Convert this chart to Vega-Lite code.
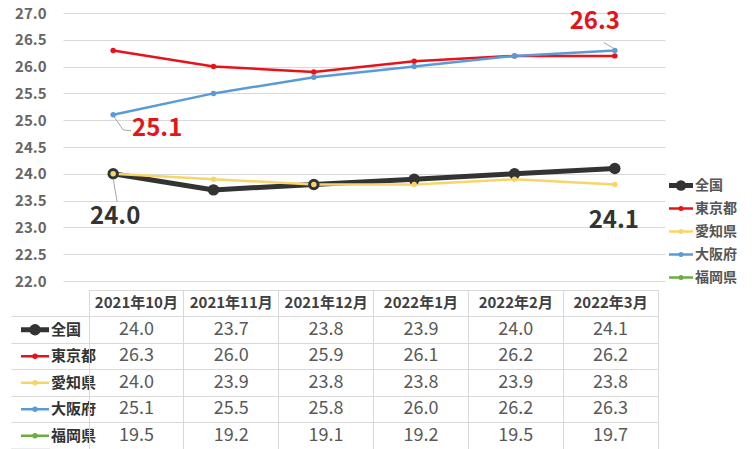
{
  "$schema": "https://vega.github.io/schema/vega-lite/v6.json",
  "background": "white",
  "padding": {"left": 10, "top": 6, "right": 0, "bottom": 0},
  "config": {"font": "Noto Sans CJK JP", "view": {"stroke": null}},
  "datasets": {
    "vals": [
      {"series": "全国", "month": "2021年10月", "value": 24.0},
      {"series": "全国", "month": "2021年11月", "value": 23.7},
      {"series": "全国", "month": "2021年12月", "value": 23.8},
      {"series": "全国", "month": "2022年1月", "value": 23.9},
      {"series": "全国", "month": "2022年2月", "value": 24.0},
      {"series": "全国", "month": "2022年3月", "value": 24.1},
      {"series": "東京都", "month": "2021年10月", "value": 26.3},
      {"series": "東京都", "month": "2021年11月", "value": 26.0},
      {"series": "東京都", "month": "2021年12月", "value": 25.9},
      {"series": "東京都", "month": "2022年1月", "value": 26.1},
      {"series": "東京都", "month": "2022年2月", "value": 26.2},
      {"series": "東京都", "month": "2022年3月", "value": 26.2},
      {"series": "愛知県", "month": "2021年10月", "value": 24.0},
      {"series": "愛知県", "month": "2021年11月", "value": 23.9},
      {"series": "愛知県", "month": "2021年12月", "value": 23.8},
      {"series": "愛知県", "month": "2022年1月", "value": 23.8},
      {"series": "愛知県", "month": "2022年2月", "value": 23.9},
      {"series": "愛知県", "month": "2022年3月", "value": 23.8},
      {"series": "大阪府", "month": "2021年10月", "value": 25.1},
      {"series": "大阪府", "month": "2021年11月", "value": 25.5},
      {"series": "大阪府", "month": "2021年12月", "value": 25.8},
      {"series": "大阪府", "month": "2022年1月", "value": 26.0},
      {"series": "大阪府", "month": "2022年2月", "value": 26.2},
      {"series": "大阪府", "month": "2022年3月", "value": 26.3},
      {"series": "福岡県", "month": "2021年10月", "value": 19.5},
      {"series": "福岡県", "month": "2021年11月", "value": 19.2},
      {"series": "福岡県", "month": "2021年12月", "value": 19.1},
      {"series": "福岡県", "month": "2022年1月", "value": 19.2},
      {"series": "福岡県", "month": "2022年2月", "value": 19.5},
      {"series": "福岡県", "month": "2022年3月", "value": 19.7}
    ]
  },
  "spacing": 0,
  "resolve": {"scale": {"x": "independent", "y": "independent"}},
  "vconcat": [
    {
      "bounds": "flush",
      "spacing": 0,
      "resolve": {"scale": {"x": "independent", "y": "independent"}},
      "hconcat": [
        {
          "width": 52,
          "height": 268,
          "data": {"name": "vals"},
          "transform": [{"filter": "false"}],
          "mark": {"type": "point", "opacity": 0},
          "encoding": {}
        },
        {
          "width": 602,
          "height": 268,
          "data": {"name": "vals"},
          "encoding": {
            "x": {"field": "month", "type": "ordinal", "sort": null, "scale": {"type": "point", "padding": 0.5}, "axis": null},
            "y": {
              "field": "value", "type": "quantitative",
              "scale": {"domain": [22, 27], "zero": false, "nice": false},
              "axis": {
                "values": [22, 22.5, 23, 23.5, 24, 24.5, 25, 25.5, 26, 26.5, 27],
                "format": ".1f", "title": null, "domain": false, "ticks": false,
                "labelPadding": 17, "labelFontSize": 15, "labelColor": "#666666", "labelFontWeight": "bold",
                "gridColor": "#d9d9d9", "gridWidth": 1
              }
            }
          },
          "layer": [
            {
              "transform": [{"filter": "datum.series !== '福岡県'"}],
              "mark": {"type": "line"},
              "encoding": {
                "color": {
                  "field": "series", "type": "nominal",
                  "scale": {"domain": ["全国", "東京都", "愛知県", "大阪府", "福岡県"], "range": ["#333333", "#E5141B", "#F6D66A", "#5B9BD5", "#6AAE3F"]},
                  "legend": null
                },
                "strokeWidth": {"condition": {"test": "datum.series === '全国'", "value": 5}, "value": 2.5}
              }
            },
            {
              "transform": [{"filter": "datum.series !== '福岡県'"}],
              "mark": {"type": "point", "filled": true, "opacity": 1},
              "encoding": {
                "color": {"field": "series", "type": "nominal", "legend": null},
                "size": {"condition": {"test": "datum.series === '全国'", "value": 130}, "value": 30}
              }
            },
            {
              "transform": [{"filter": "datum.series === '大阪府' && datum.month === '2022年3月'"}],
              "mark": {"type": "rule", "color": "#a6a6a6", "strokeWidth": 1, "xOffset": -11, "yOffset": -8, "x2Offset": -1, "y2Offset": -2},
              "encoding": {"x2": {"field": "month"}, "y2": {"field": "value"}}
            },
            {
              "transform": [{"filter": "datum.series === '大阪府' && datum.month === '2021年10月'"}],
              "mark": {"type": "rule", "color": "#a6a6a6", "strokeWidth": 1, "xOffset": 1, "yOffset": 2, "x2Offset": 10, "y2Offset": 15},
              "encoding": {"x2": {"field": "month"}, "y2": {"field": "value"}}
            },
            {
              "transform": [{"filter": "datum.series === '大阪府' && datum.month === '2021年10月'"}],
              "mark": {"type": "rule", "color": "#a6a6a6", "strokeWidth": 1, "xOffset": 10, "yOffset": 15, "x2Offset": 18, "y2Offset": 16},
              "encoding": {"x2": {"field": "month"}, "y2": {"field": "value"}}
            },
            {
              "transform": [{"filter": "datum.series === '全国' && datum.month === '2021年10月'"}],
              "mark": {"type": "rule", "color": "#a6a6a6", "strokeWidth": 1, "xOffset": 0, "yOffset": 5, "x2Offset": 4, "y2Offset": 28},
              "encoding": {"x2": {"field": "month"}, "y2": {"field": "value"}}
            },
            {
              "transform": [{"filter": "datum.series === '大阪府' && datum.month === '2022年3月'"}],
              "mark": {"type": "text", "dx": -20, "dy": -29, "fontSize": 24, "fontWeight": "bold", "color": "#E5141B"},
              "encoding": {"text": {"field": "value", "type": "quantitative", "format": ".1f"}}
            },
            {
              "transform": [{"filter": "datum.series === '大阪府' && datum.month === '2021年10月'"}],
              "mark": {"type": "text", "dx": 44, "dy": 14, "fontSize": 24, "fontWeight": "bold", "color": "#E5141B"},
              "encoding": {"text": {"field": "value", "type": "quantitative", "format": ".1f"}}
            },
            {
              "transform": [{"filter": "datum.series === '全国' && datum.month === '2021年10月'"}],
              "mark": {"type": "text", "dx": 2, "dy": 43, "fontSize": 24, "fontWeight": "bold", "color": "#333333"},
              "encoding": {"text": {"field": "value", "type": "quantitative", "format": ".1f"}}
            },
            {
              "transform": [{"filter": "datum.series === '全国' && datum.month === '2022年3月'"}],
              "mark": {"type": "text", "dx": -1, "dy": 53, "fontSize": 24, "fontWeight": "bold", "color": "#333333"},
              "encoding": {"text": {"field": "value", "type": "quantitative", "format": ".1f"}}
            }
          ]
        },
        {
          "width": 90,
          "height": 276,
          "data": {"name": "vals"},
          "transform": [{"filter": "datum.month === '2021年10月'"}],
          "encoding": {
            "x": {"datum": 0.5, "type": "quantitative", "scale": {"domain": [0, 1]}, "axis": null},
            "y": {
              "field": "series", "type": "nominal",
              "scale": {"type": "band", "domain": ["l0", "l1", "l2", "l3", "l4", "l5", "l6", "全国", "東京都", "愛知県", "大阪府", "福岡県"], "paddingInner": 0, "paddingOuter": 0},
              "axis": null
            }
          },
          "layer": [
            {
              "mark": {"type": "point", "shape": "M-1,0L1,0", "size": 576, "xOffset": -29, "opacity": 1},
              "encoding": {
                "stroke": {"field": "series", "type": "nominal", "scale": {"domain": ["全国", "東京都", "愛知県", "大阪府", "福岡県"], "range": ["#333333", "#E5141B", "#F6D66A", "#5B9BD5", "#6AAE3F"]}, "legend": null},
                "strokeWidth": {"condition": {"test": "datum.series === '全国'", "value": 5}, "value": 2.5}
              }
            },
            {
              "mark": {"type": "point", "filled": true, "xOffset": -29, "opacity": 1},
              "encoding": {
                "fill": {"field": "series", "type": "nominal", "scale": {"domain": ["全国", "東京都", "愛知県", "大阪府", "福岡県"], "range": ["#333333", "#E5141B", "#F6D66A", "#5B9BD5", "#6AAE3F"]}, "legend": null},
                "size": {"condition": {"test": "datum.series === '全国'", "value": 110}, "value": 25}
              }
            },
            {
              "mark": {"type": "text", "align": "left", "dx": -15, "fontSize": 14, "fontWeight": "bold", "color": "#555555"},
              "encoding": {"text": {"field": "series", "type": "nominal"}}
            }
          ]
        }
      ]
    },
    {
      "bounds": "flush",
      "spacing": 0,
      "resolve": {"scale": {"x": "independent", "y": "independent"}},
      "hconcat": [
        {
          "width": 78,
          "height": 159,
          "data": {"name": "vals"},
          "transform": [{"filter": "datum.month === '2021年10月'"}],
          "encoding": {
            "x": {"datum": 0.5, "type": "quantitative", "scale": {"domain": [0, 1]}, "axis": null},
            "y": {
              "field": "series", "type": "nominal",
              "scale": {"type": "band", "domain": ["header", "全国", "東京都", "愛知県", "大阪府", "福岡県"], "paddingInner": 0, "paddingOuter": 0},
              "axis": {"values": ["全国", "東京都", "愛知県", "大阪府", "福岡県"], "grid": true, "bandPosition": 0, "labels": false, "ticks": false, "domain": false, "title": null, "gridColor": "#d9d9d9"}
            }
          },
          "layer": [
            {
              "transform": [{"filter": "datum.series === '福岡県'"}],
              "mark": {"type": "rule", "color": "#d9d9d9", "strokeWidth": 1, "yOffset": 13.25},
              "encoding": {}
            },
            {
              "mark": {"type": "point", "shape": "M-1,0L1,0", "size": 784, "xOffset": -15, "opacity": 1},
              "encoding": {
                "stroke": {"field": "series", "type": "nominal", "legend": null},
                "strokeWidth": {"condition": {"test": "datum.series === '全国'", "value": 5}, "value": 2.5}
              }
            },
            {
              "mark": {"type": "point", "filled": true, "xOffset": -15, "opacity": 1},
              "encoding": {
                "fill": {"field": "series", "type": "nominal", "legend": null},
                "size": {"condition": {"test": "datum.series === '全国'", "value": 130}, "value": 30}
              }
            },
            {
              "mark": {"type": "text", "align": "left", "dx": 1, "fontSize": 15, "fontWeight": "bold", "color": "#333333"},
              "encoding": {"text": {"field": "series", "type": "nominal"}}
            }
          ]
        },
        {
          "width": 569,
          "height": 159,
          "view": {"stroke": "#d9d9d9"},
          "data": {"name": "vals"},
          "encoding": {
            "x": {
              "field": "month", "type": "ordinal", "sort": null,
              "scale": {"type": "band", "paddingInner": 0, "paddingOuter": 0},
              "axis": {"grid": true, "bandPosition": 0, "labels": false, "ticks": false, "domain": false, "title": null, "gridColor": "#d9d9d9"}
            },
            "y": {
              "field": "series", "type": "nominal",
              "scale": {"type": "band", "domain": ["header", "全国", "東京都", "愛知県", "大阪府", "福岡県"], "paddingInner": 0, "paddingOuter": 0},
              "axis": {"grid": true, "bandPosition": 0, "labels": false, "ticks": false, "domain": false, "title": null, "gridColor": "#d9d9d9"}
            }
          },
          "layer": [
            {
              "mark": {"type": "text", "fontSize": 18, "color": "#595959"},
              "encoding": {
                "text": {"field": "value", "type": "quantitative", "format": ".1f"}
              }
            },
            {
              "transform": [{"filter": "datum.series === '全国'"}],
              "mark": {"type": "text", "fontSize": 15, "fontWeight": "bold", "color": "#404040"},
              "encoding": {
                "y": {"datum": "header", "type": "nominal"},
                "text": {"field": "month", "type": "nominal"}
              }
            }
          ]
        }
      ]
    }
  ]
}
